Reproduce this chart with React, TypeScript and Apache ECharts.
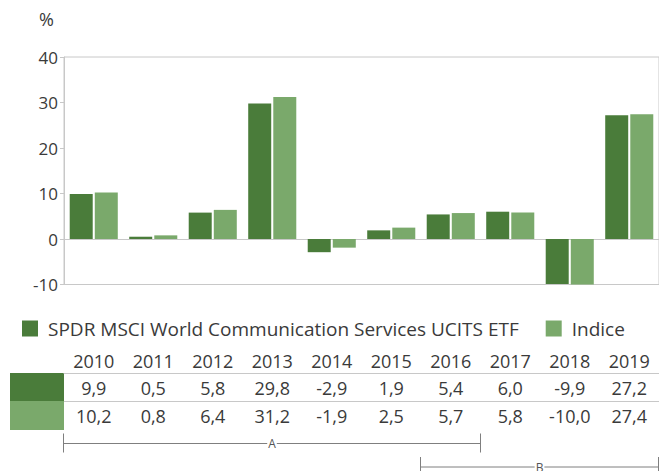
import React, { useEffect, useRef } from "react";
import * as echarts from "echarts";

const years = ["2010", "2011", "2012", "2013", "2014", "2015", "2016", "2017", "2018", "2019"];
const etfName = "SPDR MSCI World Communication Services UCITS ETF";
const indexName = "Indice";
const etfValues = [9.9, 0.5, 5.8, 29.8, -2.9, 1.9, 5.4, 6.0, -9.9, 27.2];
const indexValues = [10.2, 0.8, 6.4, 31.2, -1.9, 2.5, 5.7, 5.8, -10.0, 27.4];
const periods = [
  { label: "A", from: "2010", to: "2016", row: 0 },
  { label: "B", from: "2016", to: "2019", row: 1 },
];

const DARK = "#4a7c3a";
const LIGHT = "#7aa96b";
const FONT = "Open Sans";
const TEXT = "#3a3a3a";
const GRIDC = "#c8c8c8";

const fmt = (v: number) => v.toFixed(1).replace(".", ",");

export default function App() {
  const ref = useRef<HTMLDivElement>(null);
  useEffect(() => {
    if (!ref.current) return;
    const chart = echarts.init(ref.current, undefined, { renderer: "svg" });
    const gridLeft = 64;
    const gridTop = 57;
    const gridH = 227.5;
    const gridW = 602;
    const base = gridTop + gridH;
    const tableFont = 18;
    const option: any = {
      animation: false,
      textStyle: { fontFamily: FONT },
      title: {
        text: "%",
        left: 39,
        top: 10,
        padding: 0,
        textStyle: { fontFamily: FONT, fontSize: 18, fontWeight: "normal", color: TEXT },
      },
      legend: {
        left: 22,
        top: 319,
        padding: 0,
        itemWidth: 16,
        itemHeight: 16,
        itemGap: 27,
        icon: "rect",
        textStyle: { fontFamily: FONT, fontSize: 19, color: TEXT, padding: [0, 0, 0, 5] },
        data: [etfName, indexName],
      },
      grid: {
        left: gridLeft,
        top: gridTop,
        width: gridW,
        height: gridH,
        show: true,
        borderColor: GRIDC,
        borderWidth: 1,
        backgroundColor: "transparent",
      },
      xAxis: [
        {
          type: "category",
          data: years,
          axisLine: { show: true, onZero: true, lineStyle: { color: GRIDC } },
          axisTick: { show: false },
          axisLabel: { show: false },
        },
        {
          type: "category",
          data: years,
          position: "bottom",
          offset: 361 - base,
          axisLine: { show: false, onZero: false },
          axisTick: { show: false },
          axisLabel: { interval: 0, margin: 0, verticalAlign: "middle", fontSize: tableFont, color: TEXT, fontFamily: FONT },
        },
        {
          type: "category",
          data: etfValues.map(fmt),
          position: "bottom",
          offset: 373 - base,
          axisLine: { show: true, onZero: false, lineStyle: { color: GRIDC } },
          axisTick: { show: false },
          axisLabel: { interval: 0, margin: 15, verticalAlign: "middle", fontSize: tableFont, color: TEXT, fontFamily: FONT },
        },
        {
          type: "category",
          data: indexValues.map(fmt),
          position: "bottom",
          offset: 401 - base,
          axisLine: { show: false, onZero: false },
          axisTick: { show: false },
          axisLabel: { interval: 0, margin: 15, verticalAlign: "middle", fontSize: tableFont, color: TEXT, fontFamily: FONT },
        },
      ],
      yAxis: {
        type: "value",
        min: -10,
        max: 40,
        interval: 10,
        axisLine: { show: true, lineStyle: { color: GRIDC } },
        axisTick: { show: true, length: 4, lineStyle: { color: GRIDC } },
        splitLine: { show: false },
        axisLabel: { fontSize: 17, color: TEXT, margin: 6, fontFamily: FONT },
      },
      series: [
        {
          name: etfName,
          type: "bar",
          data: etfValues,
          itemStyle: { color: DARK },
          barWidth: 23,
          barGap: "9%",
        },
        {
          name: indexName,
          type: "bar",
          data: indexValues,
          itemStyle: { color: LIGHT },
          barWidth: 23,
          barGap: "9%",
        },
      ],
    };
    chart.setOption(option);

    const c0 = chart.convertToPixel({ xAxisIndex: 0 }, years[0]) as number;
    const c1 = chart.convertToPixel({ xAxisIndex: 0 }, years[1]) as number;
    const half = (c1 - c0) / 2;
    const rowY = [443, 466.5];
    const graphics: any[] = [
      { type: "rect", shape: { x: 10, y: 373, width: gridLeft - 10, height: 28 }, style: { fill: DARK } },
      { type: "rect", shape: { x: 10, y: 401, width: gridLeft - 10, height: 29 }, style: { fill: LIGHT } },
      { type: "line", shape: { x1: gridLeft, y1: 401.5, x2: 659, y2: 401.5 }, style: { stroke: GRIDC, lineWidth: 1 } },
    ];
    periods.forEach((p) => {
      const xa = Math.round((chart.convertToPixel({ xAxisIndex: 0 }, p.from) as number) - half) - 0.5;
      const xb = Math.round((chart.convertToPixel({ xAxisIndex: 0 }, p.to) as number) + half) - 0.5;
      const y = rowY[p.row] + 0.5;
      const stroke = "#7f7f7f";
      graphics.push(
        { type: "line", shape: { x1: xa, y1: y, x2: xb, y2: y }, style: { stroke, lineWidth: 1 } },
        { type: "line", shape: { x1: xa, y1: y - 10, x2: xa, y2: y + 9 }, style: { stroke, lineWidth: 1 } },
        { type: "line", shape: { x1: xb, y1: y - 10, x2: xb, y2: y + 9 }, style: { stroke, lineWidth: 1 } },
        {
          type: "text",
          x: (xa + xb) / 2,
          y: y,
          style: {
            text: p.label,
            fontFamily: FONT,
            fontSize: 12,
            fill: "#555",
            align: "center",
            verticalAlign: "middle",
            backgroundColor: "#fff",
            padding: [0, 1],
          },
        }
      );
    });
    chart.setOption({ graphic: graphics });
    return () => chart.dispose();
  }, []);
  return (
    <div
      ref={ref}
      style={{ position: "fixed", left: 0, top: 0, width: 659, height: 471, background: "#fff" }}
    />
  );
}
